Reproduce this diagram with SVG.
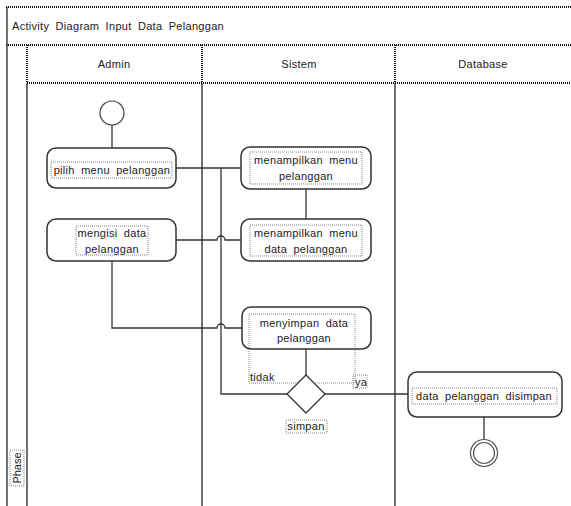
<svg xmlns="http://www.w3.org/2000/svg" width="571" height="506" viewBox="0 0 571 506">
<style>
text{font-family:"Liberation Sans",Arial,sans-serif;font-size:11px;fill:#222;letter-spacing:0.3px;word-spacing:3px}
.c{text-anchor:middle}
.frame{fill:none;stroke:#111;stroke-width:1.2}
.dotb{fill:none;stroke:#111;stroke-width:2;stroke-dasharray:1 1}
.act{fill:#fff;stroke:#333;stroke-width:1.5}
.lbl{fill:none;stroke:#666;stroke-width:0.8;stroke-dasharray:1 1}
.con{fill:none;stroke:#333;stroke-width:1.3}
</style>
<rect width="571" height="506" fill="#fff"/>
<g id="frame">
<line class="dotb" x1="6" y1="7" x2="571" y2="7"/>
<line class="dotb" x1="6" y1="45" x2="571" y2="45"/>
<line class="frame" x1="7" y1="7" x2="7" y2="506"/>
<line class="dotb" x1="27" y1="45" x2="27" y2="83"/>
<line class="dotb" x1="27" y1="83" x2="571" y2="83"/>
<line class="frame" x1="27" y1="83" x2="27" y2="506" stroke-width="2"/>
<line class="dotb" x1="202" y1="45" x2="202" y2="83"/>
<line class="frame" x1="202" y1="83" x2="202" y2="506"/>
<line class="dotb" x1="395" y1="45" x2="395" y2="83"/>
<line class="frame" x1="395" y1="83" x2="395" y2="506"/>
<text x="12" y="30">Activity Diagram Input Data Pelanggan</text>
<text class="c" x="114" y="68">Admin</text>
<text class="c" x="299" y="68">Sistem</text>
<text class="c" x="483" y="68">Database</text>
<rect class="lbl" x="10" y="450" width="14" height="36"/>
<text class="c" transform="translate(21,468) rotate(-90)" style="letter-spacing:0">Phase</text>
</g>
<g id="connectors">
<line class="con" x1="112" y1="125" x2="112" y2="148"/>
<line class="con" x1="176" y1="168" x2="241" y2="168"/>
<path class="con" d="M221,168 V394 H287"/>
<line class="con" x1="306" y1="189" x2="306" y2="219"/>
<path class="con" d="M176,240 H217 A4,4 0 0 1 225,240 H241"/>
<path class="con" d="M112,261 V328 H217 A4,4 0 0 1 225,328 H242"/>
<line class="con" x1="306" y1="349" x2="306" y2="375"/>
<line class="con" x1="325" y1="394" x2="408" y2="394"/>
<line class="con" x1="484" y1="417" x2="484" y2="440"/>
</g>
<g id="start">
<circle cx="112" cy="113" r="12" fill="#fff" stroke="#444" stroke-width="1.2"/>
</g>
<g id="pilih">
<rect class="act" x="47" y="148" width="129" height="40" rx="9"/>
<rect class="lbl" x="51" y="162" width="121" height="16"/>
<text class="c" x="112" y="174">pilih menu pelanggan</text>
</g>
<g id="tampil1">
<rect class="act" x="241" y="147" width="130" height="42" rx="9"/>
<rect class="lbl" x="250" y="152" width="112" height="32"/>
<text class="c" x="306" y="164">menampilkan menu</text>
<text class="c" x="306" y="180">pelanggan</text>
</g>
<g id="mengisi">
<rect class="act" x="47" y="219" width="129" height="42" rx="9"/>
<rect class="lbl" x="76" y="226" width="72" height="29"/>
<text class="c" x="112" y="237">mengisi data</text>
<text class="c" x="112" y="253">pelanggan</text>
</g>
<g id="tampil2">
<rect class="act" x="241" y="219" width="130" height="42" rx="9"/>
<rect class="lbl" x="250" y="225" width="112" height="31"/>
<text class="c" x="306" y="237">menampilkan menu</text>
<text class="c" x="306" y="253">data pelanggan</text>
</g>
<g id="menyimpan">
<rect class="act" x="242" y="307" width="129" height="42" rx="9"/>
<rect class="lbl" x="249" y="314" width="106" height="69"/>
<text class="c" x="304" y="327">menyimpan data</text>
<text class="c" x="304" y="342">pelanggan</text>
</g>
<g id="decision">
<polygon points="306,375 325,394 306,413 287,394" fill="#fff" stroke="#333" stroke-width="1.3"/>
<text x="250" y="381">tidak</text>
<rect class="lbl" x="353" y="375" width="14" height="13"/>
<text x="355" y="386">ya</text>
<rect class="lbl" x="286" y="420" width="41" height="13"/>
<text class="c" x="306" y="430">simpan</text>
</g>
<g id="disimpan">
<rect class="act" x="408" y="372" width="154" height="45" rx="9"/>
<rect class="lbl" x="412" y="388" width="145" height="16"/>
<text class="c" x="484" y="400">data pelanggan disimpan</text>
</g>
<g id="end">
<circle cx="484" cy="453" r="13.5" fill="#fff" stroke="#555" stroke-width="1.2"/>
<circle cx="484" cy="453" r="10.5" fill="none" stroke="#555" stroke-width="1.2"/>
</g>
</svg>
